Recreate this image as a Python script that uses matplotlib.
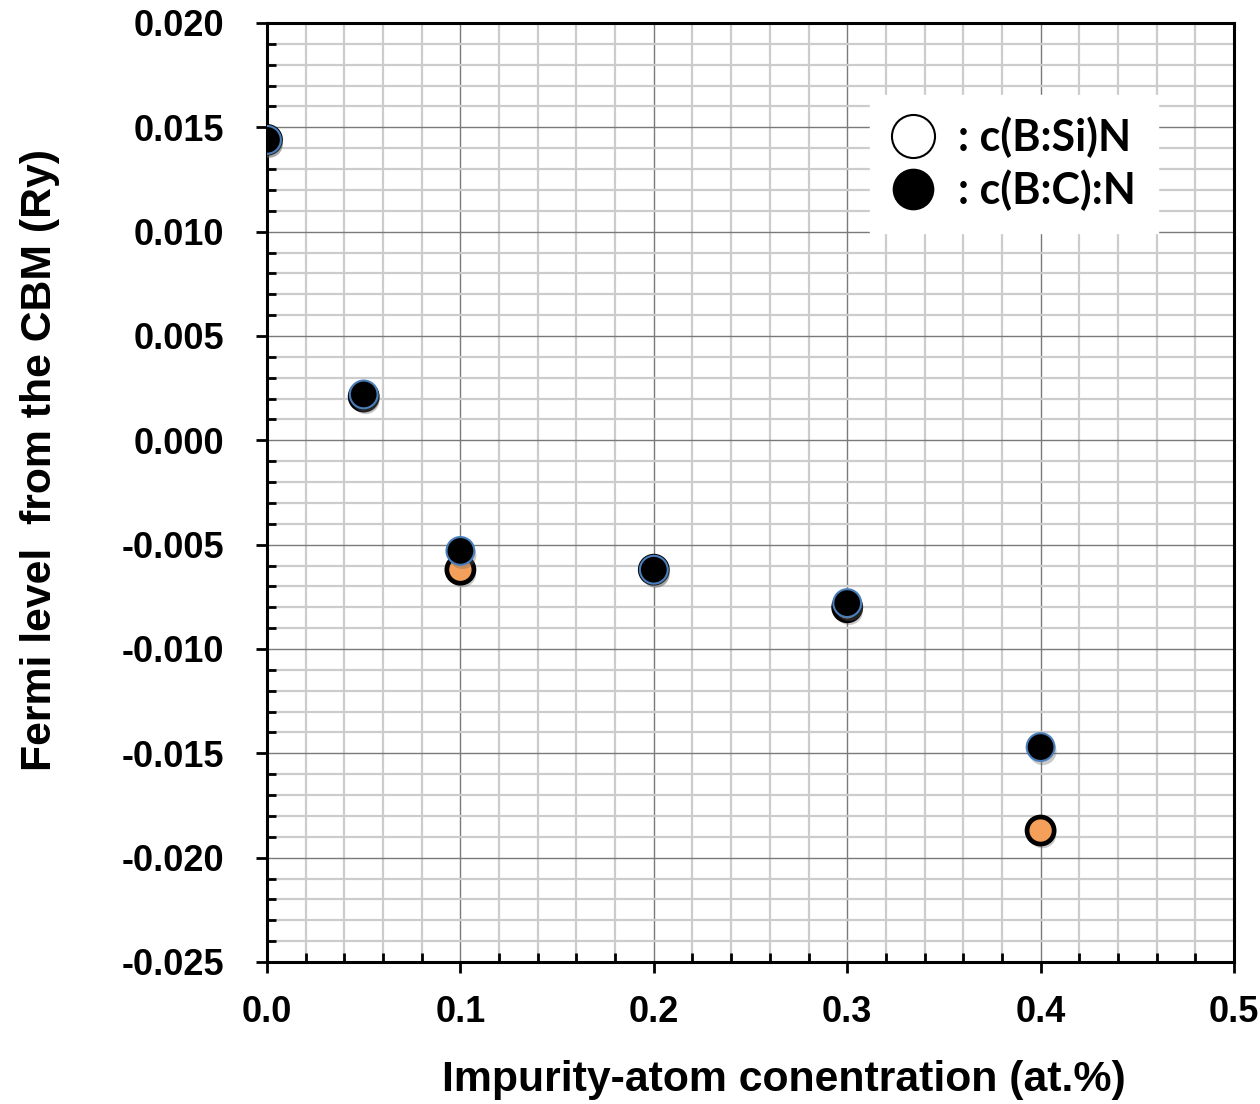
import matplotlib
matplotlib.use('Agg')
import matplotlib.pyplot as plt
import matplotlib.patheffects as pe
from matplotlib.lines import Line2D
from matplotlib.ticker import MultipleLocator, FuncFormatter

# datos
conc = [0.0, 0.05, 0.1, 0.2, 0.3, 0.4]
fermi_bsi = [0.0144, 0.0021, -0.0062, -0.0062, -0.0080, -0.0187]   # c(B:Si)N
fermi_bc = [0.0144, 0.0022, -0.0053, -0.0062, -0.0078, -0.0147]    # c(B:C):N
legend_labels = [': c(B:Si)N', ': c(B:C):N']

plt.rcParams['font.family'] = ['Liberation Sans', 'DejaVu Sans']
plt.rcParams['font.weight'] = 'bold'
plt.rcParams['axes.unicode_minus'] = False

fig = plt.figure(figsize=(12.6, 11.04), dpi=100)
ax = fig.add_axes([267/1260, 1-962/1104, 967/1260, 939/1104])

sombra = [pe.SimplePatchShadow(offset=(1.5, -3), shadow_rgbFace='0.4', alpha=0.35), pe.Normal()]

# serie c(B:Si)N (circulo abierto, relleno naranja como en el original)
ax.plot(conc, fermi_bsi, linestyle='none', marker='o', markersize=19.5,
        markerfacecolor='#f5a05a', markeredgecolor='black', markeredgewidth=3.4,
        zorder=4, path_effects=sombra)
# serie c(B:C):N (circulo negro)
ax.plot(conc, fermi_bc, linestyle='none', marker='o', markersize=20,
        markerfacecolor='black', markeredgecolor='#4a7ebb', markeredgewidth=1.5,
        zorder=5, path_effects=sombra)

ax.set_xlim(0, 0.5)
ax.set_ylim(-0.025, 0.020)
ax.xaxis.set_major_locator(MultipleLocator(0.1))
ax.xaxis.set_minor_locator(MultipleLocator(0.02))
ax.yaxis.set_major_locator(MultipleLocator(0.005))
ax.yaxis.set_minor_locator(MultipleLocator(0.001))
ax.xaxis.set_major_formatter(FuncFormatter(lambda v, p: '%.1f' % (round(v, 6) + 0.0)))
ax.yaxis.set_major_formatter(FuncFormatter(lambda v, p: '%.3f' % (round(v, 6) + 0.0)))

ax.grid(which='minor', color='#cccccc', linewidth=1.6, zorder=0)
ax.grid(which='major', color='#7a7a7a', linewidth=1.0, zorder=1)
ax.set_axisbelow(True)

for s in ax.spines.values():
    s.set_linewidth(2.2)
    s.set_color('black')

ax.tick_params(which='major', direction='out', length=8, width=2, labelsize=26)
ax.tick_params(axis='y', which='major', pad=23)
ax.tick_params(axis='x', which='major', pad=16)
ax.tick_params(which='minor', direction='in', length=6.5, width=2)
for lab in ax.get_xticklabels() + ax.get_yticklabels():
    lab.set_fontweight('bold')

ax.set_xlabel('Impurity-atom conentration (at.%)', fontsize=30.8, fontweight='bold')
ax.set_ylabel('Fermi level  from the CBM (Ry)', fontsize=30.8, fontweight='bold')
ax.xaxis.set_label_coords(0.535, -0.104)
ax.yaxis.set_label_coords(-0.214, 0.535)

handles = [
    Line2D([], [], linestyle='none', marker='o', markersize=31,
           markerfacecolor='white', markeredgecolor='black', markeredgewidth=1.5),
    Line2D([], [], linestyle='none', marker='o', markersize=29,
           markerfacecolor='black', markeredgecolor='black'),
]
leg = ax.legend(handles, legend_labels, loc='upper left',
                bbox_to_anchor=((870-267)/967, (962-95)/939),
                prop={'family': 'Lato', 'weight': 'bold', 'size': 31},
                frameon=True, fancybox=False, framealpha=1, edgecolor='white',
                borderpad=0.5, labelspacing=0.27, handlelength=1.0,
                handletextpad=0.55, borderaxespad=0)
leg.set_zorder(10)

fig.savefig('out.png', dpi=100)
